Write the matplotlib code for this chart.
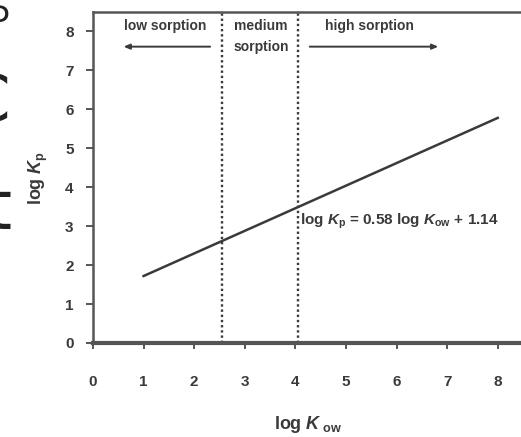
import numpy as np
import matplotlib.pyplot as plt

plt.rcParams['font.family'] = 'Liberation Sans'
plt.rcParams['mathtext.fontset'] = 'custom'
plt.rcParams['mathtext.it'] = 'Liberation Sans:italic:bold'
plt.rcParams['mathtext.rm'] = 'Liberation Sans:bold'

# regression line end points (log Kow, log Kp)
log_kow = [1, 8]
log_kp = [1.72, 5.78]

# sorption class boundaries
bounds = [2.55, 4.05]

xticks = [0, 1, 2, 3, 4, 5, 6, 7, 8]
yticks = [0, 1, 2, 3, 4, 5, 6, 7, 8]

gray = '#3a3a3a'

fig = plt.figure(figsize=(5.21, 4.37), dpi=100)
ax = fig.add_axes([93/521, 94/437, 430/521, 331/437])

ax.plot(log_kow, log_kp, color=gray, lw=1.8)
for b in bounds:
    ax.plot([b, b], [0, 8.5], color=gray, lw=1.7, ls=(0, (1, 1.2)))

ax.set_xlim(0, 8.5)
ax.set_ylim(0, 8.5)
ax.set_xticks(xticks)
ax.set_yticks(yticks)
ax.tick_params(axis='x', direction='out', length=4, width=1.2, pad=19,
               labelsize=11, colors=gray)
ax.tick_params(axis='y', direction='out', length=5, width=1.2, pad=9,
               labelsize=11, colors=gray)
for lab in ax.get_xticklabels() + ax.get_yticklabels():
    lab.set_fontweight('bold')

for s in ['left', 'top']:
    ax.spines[s].set_color('#555555')
    ax.spines[s].set_linewidth(1.8)
ax.spines['bottom'].set_color('#555555')
ax.spines['bottom'].set_linewidth(3)
ax.spines['right'].set_visible(False)

ax.set_xlabel(r'log $K_{\rm{\ ow}}$', fontsize=13, fontweight='bold', color=gray, labelpad=18)
ax.set_ylabel(r'log $K_{\rm{p}}$', fontsize=13, fontweight='bold', color=gray, labelpad=11)

tk = dict(fontsize=10, fontweight='bold', color=gray, ha='center', va='center')
ax.text(1.42, 8.15, 'low sorption', **tk)
ax.text(3.32, 8.15, 'medium', **tk)
ax.text(3.32, 7.61, 'sorption', **tk)
ax.text(5.47, 8.15, 'high sorption', **tk)

ap = dict(arrowstyle='-|>,head_length=0.35,head_width=0.15', color=gray, lw=1.4)
ax.annotate('', xy=(0.55, 7.61), xytext=(2.37, 7.61), arrowprops=ap)
ax.annotate('', xy=(6.88, 7.61), xytext=(4.23, 7.61), arrowprops=ap)

ax.text(4.1, 3.12, r'log $K_{\rm{p}}$ = 0.58 log $K_{\rm{ow}}$ + 1.14',
        fontsize=11, fontweight='bold', color=gray, ha='left', va='center')

# cut-off fragments of neighbouring text at the left edge
fig.text(11/521, 1 - 12/437, '5', fontsize=24, ha='right', va='center', color='#222222',
         family='DejaVu Sans')
fig.text(10/521, 1 - 103/437, 'C', fontsize=46, ha='right', va='center', color='#222222',
         family='DejaVu Sans')
fig.text(11/521, 1 - 210/437, 't', fontsize=48, ha='right', va='center', color='#222222',
         family='DejaVu Sans')

fig.savefig('out.png', dpi=100)
